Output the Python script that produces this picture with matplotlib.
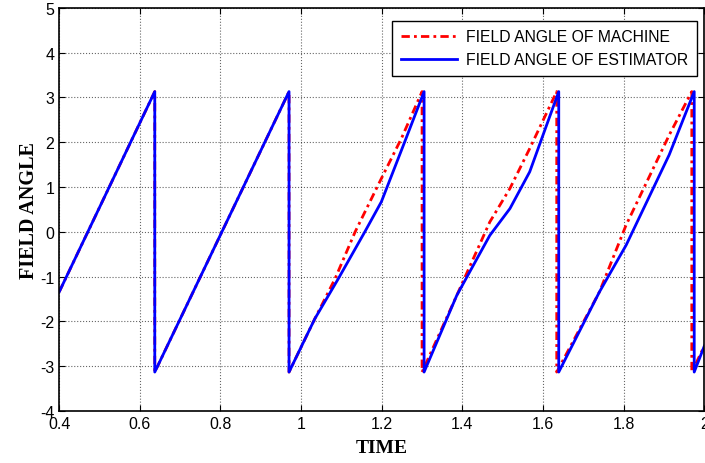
import matplotlib
matplotlib.use("Agg")
import matplotlib.pyplot as plt

# values (knots of the sawtooth curves)
machine_time = [0.400, 0.637, 0.637, 0.970, 0.970, 1.034, 1.084, 1.134, 1.199,
                1.249, 1.300, 1.300, 1.386, 1.468, 1.518, 1.567, 1.634, 1.634,
                1.740, 1.806, 1.913, 1.969, 1.969, 2.000]
machine_angle = [-1.34, 3.13, -3.13, 3.13, -3.13, -1.94, -1.05, 0.00, 1.19,
                 2.09, 3.13, -3.13, -1.42, 0.22, 0.97, 1.86, 3.13, -3.13,
                 -1.34, 0.15, 2.16, 3.13, -3.13, -2.55]

estimator_time = [0.400, 0.637, 0.637, 0.970, 0.970, 1.034, 1.092, 1.158, 1.199,
                  1.257, 1.305, 1.305, 1.386, 1.468, 1.518, 1.567, 1.639, 1.639,
                  1.740, 1.806, 1.913, 1.975, 1.975, 2.000]
estimator_angle = [-1.34, 3.13, -3.13, 3.13, -3.13, -1.94, -1.05, 0.00, 0.67,
                   2.01, 3.13, -3.13, -1.42, -0.08, 0.52, 1.34, 3.13, -3.13,
                   -1.34, -0.30, 1.72, 3.13, -3.13, -2.55]

xticks = [0.4, 0.6, 0.8, 1.0, 1.2, 1.4, 1.6, 1.8, 2.0]
xtick_labels = ['0.4', '0.6', '0.8', '1', '1.2', '1.4', '1.6', '1.8', '2']
yticks = [-4, -3, -2, -1, 0, 1, 2, 3, 4, 5]

plt.rcParams['font.family'] = ['Liberation Sans', 'DejaVu Sans']
plt.rcParams['axes.unicode_minus'] = False

fig = plt.figure(figsize=(7.05, 4.64), dpi=100)
ax = fig.add_axes([0.084, 0.112, 0.915, 0.869])

ax.plot(machine_time, machine_angle, color='red', linestyle=(0, (3, 1.5, 1, 1.5)),
        linewidth=2, label='FIELD ANGLE OF MACHINE')
ax.plot(estimator_time, estimator_angle, color='blue', linestyle='-', linewidth=2,
        label='FIELD ANGLE OF ESTIMATOR')

ax.set_xlim(0.4, 2.0)
ax.set_ylim(-4, 5)
ax.set_xticks(xticks)
ax.set_xticklabels(xtick_labels)
ax.set_yticks(yticks)
ax.tick_params(direction='in', top=True, right=True, labelsize=11.5, length=4)
ax.grid(True, color='black', linestyle=':', linewidth=0.8, alpha=0.6)
for s in ax.spines.values():
    s.set_linewidth(1.2)

ax.set_xlabel('TIME', family='Liberation Serif', fontweight='bold', fontsize=14, labelpad=6)
ax.set_ylabel('FIELD ANGLE', family='Liberation Serif', fontweight='bold', fontsize=14.5, labelpad=1)

# legend box sits at roughly x 392-697, y 22-77 px in the reference
leg = ax.legend(loc='upper right', fontsize=11.3, fancybox=False, framealpha=1,
                edgecolor='black', handlelength=3.6, borderpad=0.55, handletextpad=0.6,
                borderaxespad=0, bbox_to_anchor=(0.989, 0.968))
leg.get_frame().set_linewidth(1.0)

fig.savefig('out.png', dpi=100)
